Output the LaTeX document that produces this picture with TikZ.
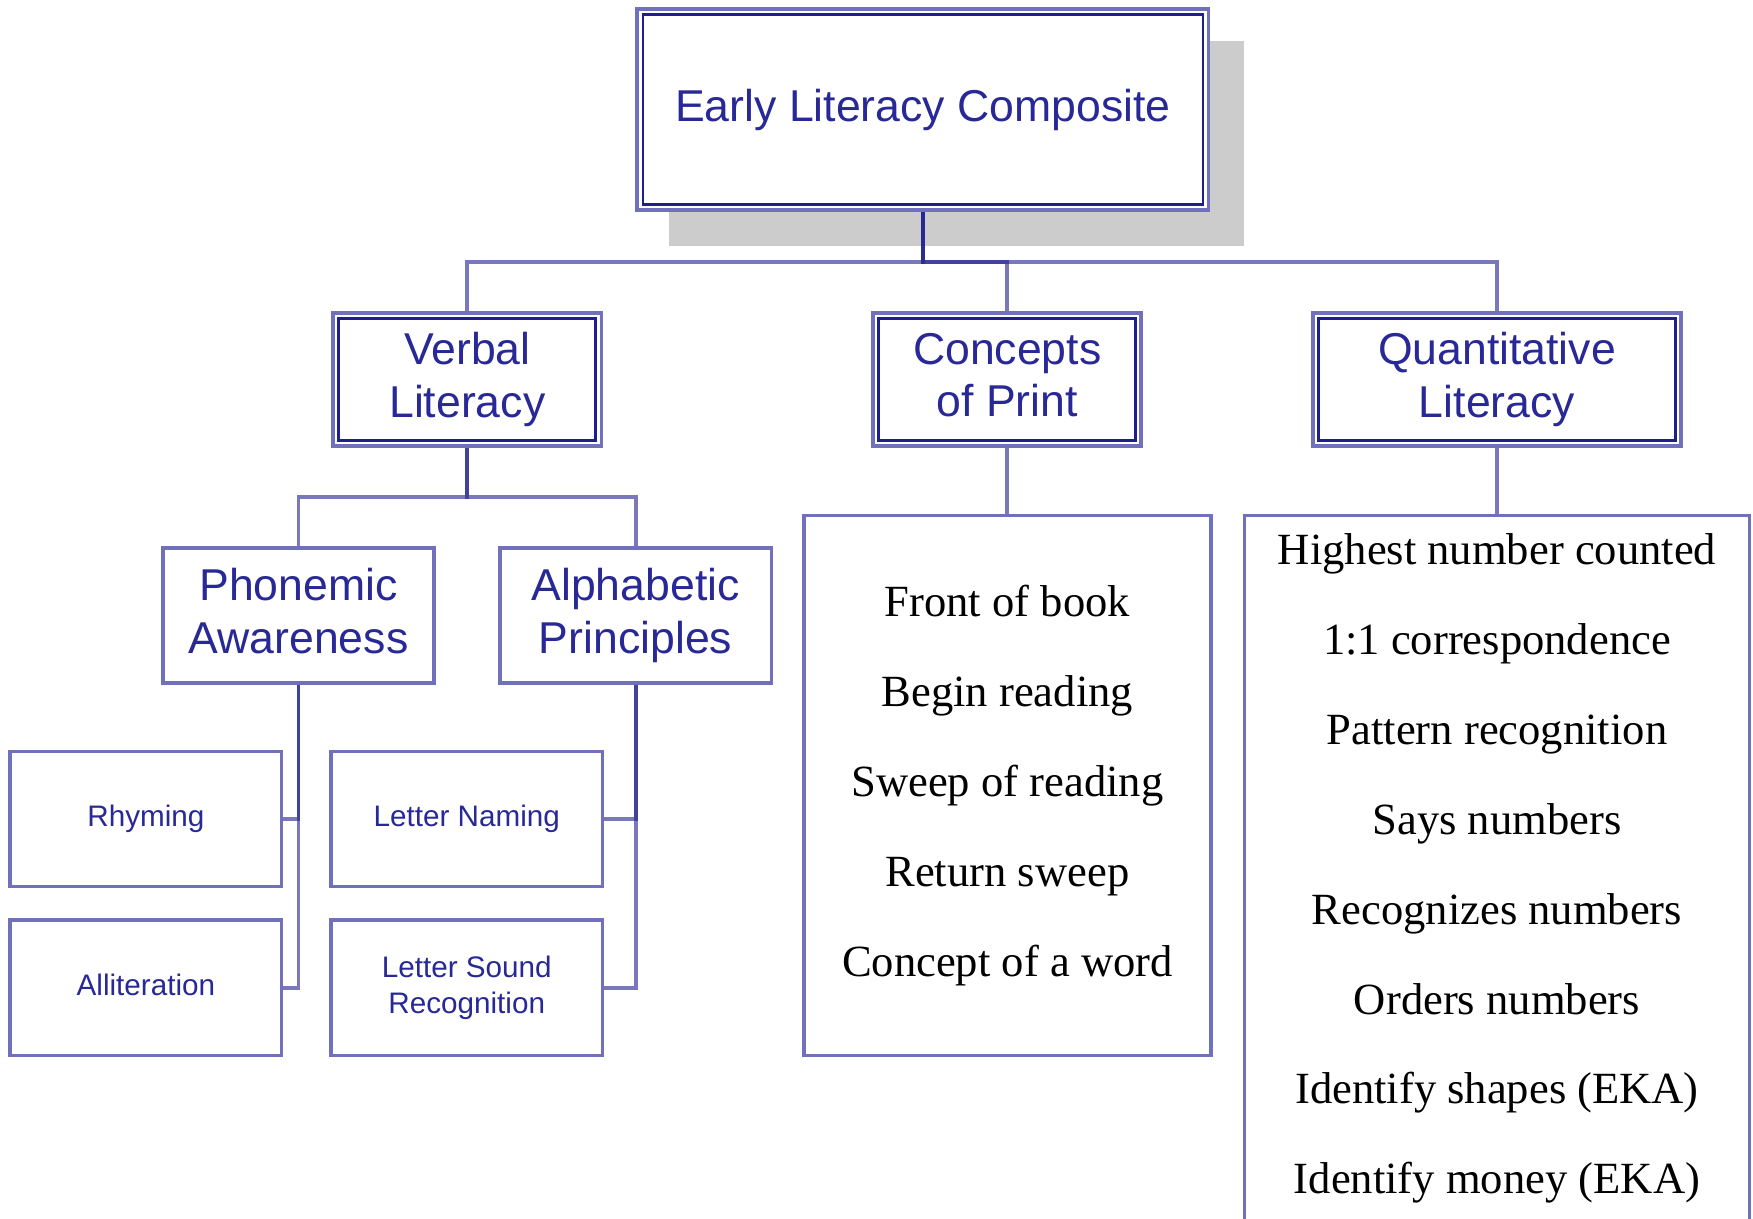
\documentclass[tikz,border=0pt]{standalone}
\usepackage{fontspec}
\setmainfont{Liberation Serif}
\newfontfamily\boxfont{Liberation Sans}
\usepackage{xcolor}
\usepackage{tikz}
\usetikzlibrary{calc, shadows}
\definecolor{chuxanh}{RGB}{40,40,150}
\definecolor{vienxanh}{RGB}{112,112,188}
\definecolor{noixanh}{RGB}{30,30,140}

\begin{document}
\begin{tikzpicture}[x=0.02cm, y=-0.02cm,
    khung/.style={draw=vienxanh, line width=1.8pt, fill=white, text=chuxanh,
        font=\boxfont\fontsize{22.7}{26.7}\selectfont, align=center, inner sep=0pt,
        execute at end node={\vphantom{gy}}},
    khungkep/.style={khung, draw=noixanh, line width=1.4pt, outer sep=3.8pt,
        preaction={draw=vienxanh, line width=7.6pt},
        preaction={draw=white, line width=3.7pt}},
    khungnho/.style={khung, minimum width=4.86cm, minimum height=2.42cm,
        font=\boxfont\fontsize{15.1}{18.1}\selectfont},
    muc/.style={anchor=base, inner sep=0pt, font=\fontsize{22.7}{27}\selectfont},
    noi/.style={draw=noixanh, line width=2pt, draw opacity=.6}]
    \useasboundingbox (0,0) rectangle (1568,1090);
    \clip (0,0) rectangle (1568,1090);

    % Ô gốc
    \node[drop shadow={shadow xshift=0.6cm, shadow yshift=-0.6cm, fill=black!20,
            draw=black!20, line width=7.6pt, opacity=1},
        khungkep, minimum width=10.02cm, minimum height=3.4cm]
        (elc) at (825.5,98) {Early Literacy Composite};

    % Nhánh cấp 1
    \node[khungkep, minimum width=4.6cm, minimum height=2.18cm] (vl) at (418,339.5) {Verbal\\Literacy};
    \node[khungkep, minimum width=4.6cm, minimum height=2.18cm] (cp) at (901,339.5) {Concepts\\of Print};
    \node[khungkep, minimum width=6.4cm, minimum height=2.18cm] (ql) at (1339,339.5) {Quantitative\\Literacy};

    % Nhánh cấp 2
    \node[khung, minimum width=4.84cm, minimum height=2.42cm] (pa) at (267,550.5) {Phonemic\\Awareness};
    \node[khung, minimum width=4.86cm, minimum height=2.42cm] (ap) at (568.5,550.5) {Alphabetic\\Principles};

    % Nhánh cấp 3
    \node[khungnho] (rhy) at (130.5,732.5) {Rhyming};
    \node[khungnho] (alli) at (130.5,883.5) {Alliteration};
    \node[khungnho] (ln) at (417.5,732.5) {Letter Naming};
    \node[khungnho] (lsr) at (417.5,883.5) {Letter Sound\\Recognition};

    % Hai ô danh sách
    \node[khung, minimum width=7.28cm, minimum height=9.66cm] (cpl) at (901,702.5) {};
    \node[khung, minimum width=9.04cm, minimum height=13.18cm] (qll) at (1339,790.5) {};
    \foreach \t [count=\i] in {Front of book, Begin reading, Sweep of reading,
        Return sweep, Concept of a word}
        \node[muc] (cp\i) at (901, 551+80.5*\i-80.5) {\t};
    \foreach \t [count=\i] in {Highest number counted, 1:1 correspondence,
        Pattern recognition, Says numbers, Recognizes numbers, Orders numbers,
        Identify shapes (EKA), Identify money (EKA)}
        \node[muc] (ql\i) at (1339, 505+80.4*\i-80.4) {\t};

    % Đường nối
    \draw[noi] (elc.south) -- ++(0,45) -| (vl.north);
    \draw[noi] (elc.south) -- ++(0,45) -| (cp.north);
    \draw[noi] (elc.south) -- ++(0,45) -| (ql.north);
    \draw[noi] (vl.south) -- ++(0,44) -| (pa.north);
    \draw[noi] (vl.south) -- ++(0,44) -| (ap.north);
    \draw[noi] (pa.south) |- (rhy.east);
    \draw[noi] (pa.south) |- (alli.east);
    \draw[noi] (ap.south) |- (ln.east);
    \draw[noi] (ap.south) |- (lsr.east);
    \draw[noi] (cp.south) -- (cpl.north);
    \draw[noi] (ql.south) -- (qll.north);
\end{tikzpicture}
\end{document}
